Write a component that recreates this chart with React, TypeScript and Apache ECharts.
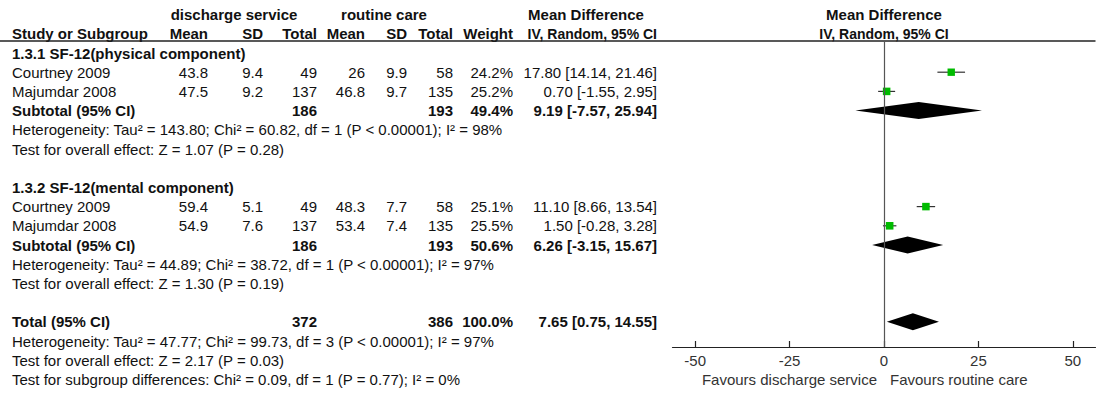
import React, { useEffect, useRef } from "react";
import * as echarts from "echarts";

// ---- data ----
const studyNames = ["Courtney 2009", "Majumdar 2008", "Courtney 2009", "Majumdar 2008"];
const studyRows = [1, 2, 8, 9];
const expMean = [43.8, 47.5, 59.4, 54.9];
const expSD = [9.4, 9.2, 5.1, 7.6];
const expTotal = [49, 137, 49, 137];
const ctlMean = [26, 46.8, 48.3, 53.4];
const ctlSD = [9.9, 9.7, 7.7, 7.4];
const ctlTotal = [58, 135, 58, 135];
const studyWeight = [24.2, 25.2, 25.1, 25.5];
const studyMD = [17.8, 0.7, 11.1, 1.5];
const studyLo = [14.14, -1.55, 8.66, -0.28];
const studyHi = [21.46, 2.95, 13.54, 3.28];

const pooledLabels = ["Subtotal (95% CI)", "Subtotal (95% CI)", "Total (95% CI)"];
const pooledRows = [3, 10, 14];
const pooledExpTotal = [186, 186, 372];
const pooledCtlTotal = [193, 193, 386];
const pooledWeight = [49.4, 50.6, 100.0];
const pooledMD = [9.19, 6.26, 7.65];
const pooledLo = [-7.57, -3.15, 0.75];
const pooledHi = [25.94, 15.67, 14.55];

const groupTitles = ["1.3.1 SF-12(physical component)", "1.3.2 SF-12(mental component)"];
const groupRows = [0, 7];

const noteLines = [
  "Heterogeneity: Tau² = 143.80; Chi² = 60.82, df = 1 (P < 0.00001); I² = 98%",
  "Test for overall effect: Z = 1.07 (P = 0.28)",
  "Heterogeneity: Tau² = 44.89; Chi² = 38.72, df = 1 (P < 0.00001); I² = 97%",
  "Test for overall effect: Z = 1.30 (P = 0.19)",
  "Heterogeneity: Tau² = 47.77; Chi² = 99.73, df = 3 (P < 0.00001); I² = 97%",
  "Test for overall effect: Z = 2.17 (P = 0.03)",
  "Test for subgroup differences: Chi² = 0.09, df = 1 (P = 0.77); I² = 0%",
];
const noteRows = [4, 5, 11, 12, 15, 16, 17];

const xTicks = [-50, -25, 0, 25, 50];
const xMin = -56;
const xMax = 56;
const favourLeft = "Favours discharge service";
const favourRight = "Favours routine care";

// ---- layout ----
const W = 1099;
const H = 403;
const GRID_TOP = 41;
const GRID_BOTTOM_Y = 347;
const GRID_LEFT = 672.5;
const GRID_RIGHT_X = 1095.5;
const Y_MIN = -0.625;
const Y_MAX = 15.3125;
const rowY = (r: number) =>
  GRID_TOP + ((r - Y_MIN) * (GRID_BOTTOM_Y - GRID_TOP)) / (Y_MAX - Y_MIN);

const FONT = "'Liberation Sans', Arial, Helvetica, sans-serif";
const FS = 15;
const TXT = "#111";

const colStudy = 12;
const colExpMean = 208;
const colExpSD = 263;
const colExpTotal = 317;
const colCtlMean = 365;
const colCtlSD = 407;
const colCtlTotal = 453;
const colWeight = 513;
const colCI = 657;

function txt(text: string, x: number, y: number, align: string, bold = false, fill = TXT, size = FS) {
  return {
    type: "text",
    x,
    y,
    silent: true,
    style: {
      text,
      fill,
      font: `${bold ? "bold " : ""}${size}px ${FONT}`,
      align,
      verticalAlign: "middle",
      textAlign: align,
      textVerticalAlign: "middle",
    },
  };
}

const fmtCI = (m: number, l: number, h: number) =>
  `${m.toFixed(2)} [${l.toFixed(2)}, ${h.toFixed(2)}]`;

export default function App() {
  const ref = useRef<HTMLDivElement>(null);

  useEffect(() => {
    if (!ref.current) return;
    const chart = echarts.init(ref.current, null, { renderer: "svg", width: W, height: H });

    const texts: any[] = [];
    const h1 = rowY(-2);
    const h2 = rowY(-1);
    texts.push(txt("discharge service", 234, h1, "center", true));
    texts.push(txt("routine care", 384, h1, "center", true));
    texts.push(txt("Mean Difference", 586, h1, "center", true));
    texts.push(txt("Mean Difference", 884, h1, "center", true));
    texts.push(txt("Study or Subgroup", colStudy, h2, "left", true));
    texts.push(txt("Mean", colExpMean, h2, "right", true));
    texts.push(txt("SD", colExpSD, h2, "right", true));
    texts.push(txt("Total", colExpTotal, h2, "right", true));
    texts.push(txt("Mean", colCtlMean, h2, "right", true));
    texts.push(txt("SD", colCtlSD, h2, "right", true));
    texts.push(txt("Total", colCtlTotal, h2, "right", true));
    texts.push(txt("Weight", colWeight, h2, "right", true));
    texts.push(txt("IV, Random, 95% CI", colCI, h2, "right", true, TXT, 14));
    texts.push(txt("IV, Random, 95% CI", 884, h2, "center", true, TXT, 14));

    groupTitles.forEach((t, i) => texts.push(txt(t, colStudy, rowY(groupRows[i]), "left", true)));

    studyNames.forEach((n, i) => {
      const y = rowY(studyRows[i]);
      texts.push(txt(n, colStudy, y, "left"));
      texts.push(txt(String(expMean[i]), colExpMean, y, "right"));
      texts.push(txt(String(expSD[i]), colExpSD, y, "right"));
      texts.push(txt(String(expTotal[i]), colExpTotal, y, "right"));
      texts.push(txt(String(ctlMean[i]), colCtlMean, y, "right"));
      texts.push(txt(String(ctlSD[i]), colCtlSD, y, "right"));
      texts.push(txt(String(ctlTotal[i]), colCtlTotal, y, "right"));
      texts.push(txt(studyWeight[i].toFixed(1) + "%", colWeight, y, "right"));
      texts.push(txt(fmtCI(studyMD[i], studyLo[i], studyHi[i]), colCI, y, "right"));
    });

    pooledLabels.forEach((n, i) => {
      const y = rowY(pooledRows[i]);
      texts.push(txt(n, colStudy, y, "left", true));
      texts.push(txt(String(pooledExpTotal[i]), colExpTotal, y, "right", true));
      texts.push(txt(String(pooledCtlTotal[i]), colCtlTotal, y, "right", true));
      texts.push(txt(pooledWeight[i].toFixed(1) + "%", colWeight, y, "right", true));
      texts.push(txt(fmtCI(pooledMD[i], pooledLo[i], pooledHi[i]), colCI, y, "right", true));
    });

    noteLines.forEach((t, i) => texts.push(txt(t, colStudy, rowY(noteRows[i]), "left")));

    const favY = rowY(17);
    texts.push(txt(favourLeft, 877, favY, "right", false, "#333"));
    texts.push(txt(favourRight, 890, favY, "left", false, "#333"));

    texts.push({
      type: "line",
      silent: true,
      shape: { x1: 0, y1: GRID_TOP, x2: GRID_RIGHT_X, y2: GRID_TOP },
      style: { stroke: "#222", lineWidth: 1.4 },
    });

    const studyData = studyRows.map((r, i) => [r, studyMD[i], studyLo[i], studyHi[i], 0, studyWeight[i]]);
    const pooledData = pooledRows.map((r, i) => [r, pooledMD[i], pooledLo[i], pooledHi[i], 1, pooledWeight[i]]);

    const option: any = {
      animation: false,
      backgroundColor: "#fff",
      grid: {
        left: GRID_LEFT,
        right: W - GRID_RIGHT_X,
        top: GRID_TOP,
        bottom: H - GRID_BOTTOM_Y,
        containLabel: false,
      },
      xAxis: {
        type: "value",
        position: "bottom",
        min: xMin,
        max: xMax,
        axisLine: { show: true, onZero: false, lineStyle: { color: "#222", width: 1.2 } },
        axisTick: {
          show: true,
          inside: true,
          length: 6,
          customValues: xTicks,
          lineStyle: { color: "#222", width: 1.2 },
        },
        axisLabel: {
          customValues: xTicks,
          margin: 6,
          color: "#333",
          fontSize: FS,
          fontFamily: FONT,
          formatter: (v: number) => String(v),
        },
        splitLine: { show: false },
      },
      yAxis: {
        type: "value",
        inverse: true,
        min: Y_MIN,
        max: Y_MAX,
        show: false,
        splitLine: { show: false },
      },
      graphic: { elements: texts },
      series: [
        {
          type: "custom",
          encode: { x: [1, 2, 3], y: 0 },
          data: [...studyData, ...pooledData],
          clip: false,
          renderItem: (params: any, api: any) => {
            const row = api.value(0);
            const est = api.value(1);
            const lo = api.value(2);
            const hi = api.value(3);
            const kind = api.value(4);
            const w = api.value(5);
            const c = api.coord([est, row]);
            const l = api.coord([lo, row]);
            const h = api.coord([hi, row]);
            if (kind === 1) {
              const hh = 8.5;
              return {
                type: "polygon",
                shape: {
                  points: [
                    [l[0], c[1]],
                    [c[0], c[1] - hh],
                    [h[0], c[1]],
                    [c[0], c[1] + hh],
                  ],
                },
                style: { fill: "#000" },
              };
            }
            const s = 1.5 * Math.sqrt(w);
            return {
              type: "group",
              children: [
                {
                  type: "line",
                  shape: { x1: l[0], y1: c[1], x2: h[0], y2: c[1] },
                  style: { stroke: "#333", lineWidth: 1.2 },
                },
                {
                  type: "rect",
                  shape: { x: c[0] - s / 2, y: c[1] - s / 2, width: s, height: s },
                  style: { fill: "#00bb00" },
                },
              ],
            };
          },
          markLine: {
            silent: true,
            symbol: "none",
            label: { show: false },
            lineStyle: { color: "#555", width: 1.2, type: "solid" },
            data: [{ xAxis: 0 }],
          },
          z: 3,
        },
      ],
    };

    chart.setOption(option);
    return () => chart.dispose();
  }, []);

  return (
    <div
      ref={ref}
      style={{ position: "absolute", left: 0, top: 0, width: W, height: H, background: "#fff" }}
    />
  );
}
